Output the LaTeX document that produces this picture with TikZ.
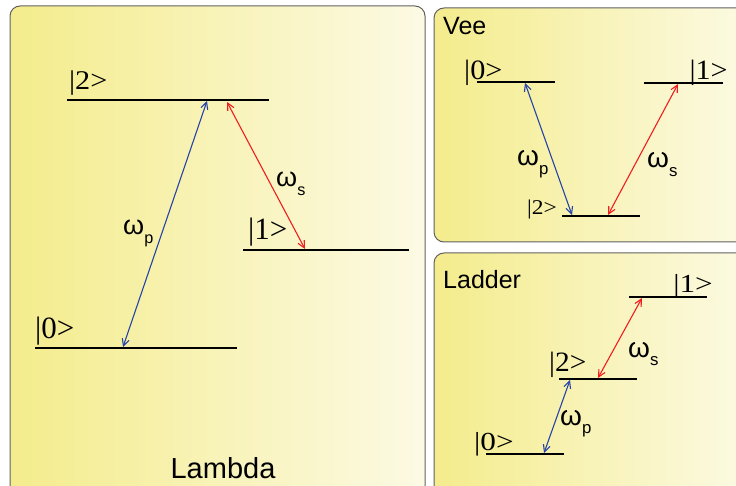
\documentclass[tikz,border=0pt]{standalone}
\usepackage{fontspec}
\setmainfont{Liberation Serif}
\newfontfamily\arialf{Liberation Sans}
\usetikzlibrary{arrows.meta}

\definecolor{panelleft}{RGB}{244,236,140}
\definecolor{panelright}{RGB}{252,250,228}
\definecolor{pumpblue}{RGB}{38,68,168}
\definecolor{stokesred}{RGB}{240,30,30}

\newcommand{\lowsub}[1]{\raisebox{-0.32em}{\scalebox{0.6}{#1}}}
\newcommand{\wideket}[2]{\scalebox{#1}[1]{#2}}

\tikzset{
  >={Straight Barb[length=7pt,width=7pt]},
  panel/.style={draw=black!62, line width=1pt, rounded corners=10pt,
    left color=panelleft, right color=panelright},
  level/.style={line width=2.6pt, line cap=butt},
  pump/.style={<->, pumpblue, line width=1.1pt},
  stokes/.style={<->, stokesred, line width=1.1pt},
  ket/.style={inner sep=0pt, font=\fontsize{#1}{#1}\selectfont},
  freq/.style={inner sep=0pt, font=\arialf\fontsize{#1}{#1}\selectfont},
  title/.style={inner sep=0pt, font=\arialf\fontsize{#1}{#1}\selectfont},
}

\begin{document}
\begin{tikzpicture}[x=1pt,y=-1pt]
\useasboundingbox (0,0) rectangle (736,486);
\clip (0,0) rectangle (736,486);

% panels
\path[panel] (10,6) rectangle (425,500);
\path[panel] (434,8) rectangle (750,242);
\path[panel] (434,253) rectangle (750,500);

% Lambda
\draw[level] (67,100) -- (269,100);
\draw[level] (243,250) -- (409,250);
\draw[level] (35,348) -- (237,348);
\node[ket=27, anchor=base west] (lam2) at (69,90) {\wideket{1.12}{|2>}};
\node[ket=31, anchor=base west] (lam1) at (248,240) {|1>};
\node[ket=31, anchor=base west] (lam0) at (35,338) {|0>};
\coordinate (lam0p) at (123,347);
\coordinate (lam2p) at (207,101);
\coordinate (lam2s) at (227,102);
\coordinate (lam1s) at (305,249);
\draw[pump] (lam0p) -- (lam2p);
\draw[stokes] (lam2s) -- (lam1s);
\node[freq=27, anchor=base west] (lamwp) at (123,235) {ω\lowsub{p}};
\node[freq=27, anchor=base west] (lamws) at (276,187) {ω\lowsub{s}};
\node[title=29] (lamtitle) at (223,468) {Lambda};

% Vee
\draw[level] (477,82) -- (555,82);
\draw[level] (644,83) -- (723,83);
\draw[level] (562,216) -- (640,216);
\node[ket=28, anchor=base west] (vee0) at (464,80) {\wideket{1.08}{|0>}};
\node[ket=28, anchor=base east] (vee1) at (728,80) {\wideket{1.08}{|1>}};
\node[ket=21, anchor=base west] (vee2) at (527,215) {\wideket{1.12}{|2>}};
\coordinate (vee0p) at (525,83);
\coordinate (vee2p) at (572,215);
\coordinate (vee1s) at (678,84);
\coordinate (vee2s) at (608,215);
\draw[pump] (vee0p) -- (vee2p);
\draw[stokes] (vee1s) -- (vee2s);
\node[freq=28, anchor=base west] (veewp) at (517,166) {ω\lowsub{p}};
\node[freq=28, anchor=base west] (veews) at (647,168) {ω\lowsub{s}};
\node[title=25, anchor=base west] (veetitle) at (443,35) {Vee};

% Ladder
\draw[level] (629,297) -- (707,297);
\draw[level] (559,379) -- (637,379);
\draw[level] (486,454) -- (564,454);
\node[ket=26, anchor=base east] (lad1) at (713,293) {\wideket{1.2}{|1>}};
\node[ket=28, anchor=base west] (lad2) at (549,371) {\wideket{1.05}{|2>}};
\node[ket=26, anchor=base west] (lad0) at (474,450) {\wideket{1.2}{|0>}};
\coordinate (lad1s) at (642,298);
\coordinate (lad2s) at (598,378);
\coordinate (lad2p) at (570,380);
\coordinate (lad0p) at (544,453);
\draw[stokes] (lad1s) -- (lad2s);
\draw[pump] (lad2p) -- (lad0p);
\node[freq=28, anchor=base west] (ladws) at (628,357) {ω\lowsub{s}};
\node[freq=28, anchor=base west] (ladwp) at (560,425) {ω\lowsub{p}};
\node[title=25, anchor=base west] (ladtitle) at (443,288) {Ladder};
\end{tikzpicture}
\end{document}
